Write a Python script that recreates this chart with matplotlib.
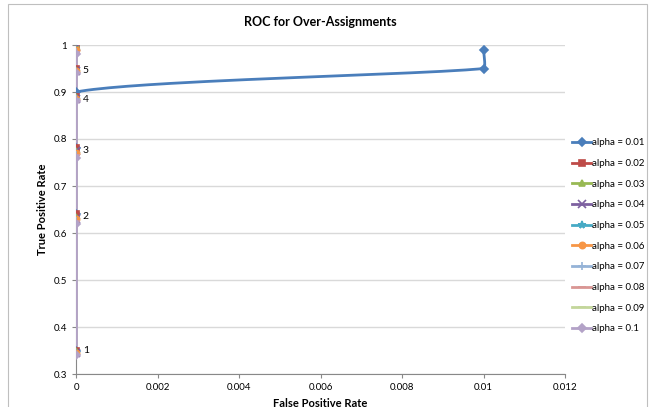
import matplotlib
matplotlib.use("Agg")
import matplotlib.pyplot as plt
import numpy as np

plt.rcParams['font.family'] = ['Lato', 'DejaVu Sans']

labels = ['alpha = 0.01', 'alpha = 0.02', 'alpha = 0.03', 'alpha = 0.04', 'alpha = 0.05',
          'alpha = 0.06', 'alpha = 0.07', 'alpha = 0.08', 'alpha = 0.09', 'alpha = 0.1']
colors = ['#4A7EBB', '#BE4B48', '#98B954', '#7D60A0', '#46AAC5',
          '#F79646', '#95B3D7', '#D99694', '#C3D69B', '#B3A2C7']
markers = ['D', 's', '^', 'x', '*', 'o', '+', '_', '_', 'D']

fpr = {
    'alpha = 0.01': [0, 0, 0, 0, 0.01, 0.01],
}
tpr = {
    'alpha = 0.01': [0.35, 0.64, 0.78, 0.90, 0.95, 0.99],
    'alpha = 0.02': [0.35, 0.64, 0.78, 0.89, 0.95, 1.00],
    'alpha = 0.03': [0.35, 0.635, 0.775, 0.89, 0.945, 1.00],
    'alpha = 0.04': [0.345, 0.63, 0.775, 0.885, 0.945, 0.995],
    'alpha = 0.05': [0.345, 0.63, 0.77, 0.885, 0.945, 0.99],
    'alpha = 0.06': [0.345, 0.63, 0.77, 0.885, 0.945, 0.99],
    'alpha = 0.07': [0.34, 0.625, 0.765, 0.885, 0.94, 0.985],
    'alpha = 0.08': [0.34, 0.625, 0.765, 0.88, 0.94, 0.985],
    'alpha = 0.09': [0.34, 0.62, 0.76, 0.88, 0.94, 0.98],
    'alpha = 0.1': [0.34, 0.62, 0.76, 0.88, 0.94, 0.98],
}
point_labels = ['1', '2', '3', '4', '5']
label_y = [0.35, 0.635, 0.775, 0.885, 0.945]


def unit(v):
    n = np.hypot(*v)
    return v / n if n > 0 else v * 0


def smooth(xs, ys, scale, k=0.15, n=40):
    # bezier smoothing with short handles, roughly like excel's smoothed line
    p = np.column_stack([xs, ys]).astype(float) / scale
    p = np.vstack([p[0], p, p[-1]])
    out = []
    t = np.linspace(0, 1, n)[:, None]
    for i in range(1, len(p) - 2):
        p0, p1, p2, p3 = p[i - 1], p[i], p[i + 1], p[i + 2]
        L = np.hypot(*(p2 - p1))
        c1 = p1 + k * L * unit(p2 - p0)
        c2 = p2 - k * L * unit(p3 - p1)
        out.append((1 - t) ** 3 * p1 + 3 * (1 - t) ** 2 * t * c1 + 3 * (1 - t) * t ** 2 * c2 + t ** 3 * p2)
    out = np.vstack(out) * scale
    return out[:, 0], out[:, 1]


fig = plt.figure(figsize=(6.49, 4.07), dpi=100)
ax = fig.add_axes([76 / 649, 1 - 374 / 407, (565 - 76) / 649, (374 - 45) / 407])
scale = np.array([0.012 / 489, 0.7 / 329])

for lab, c, m in zip(labels, colors, markers):
    ys = tpr[lab]
    xs = fpr.get(lab, [0] * len(ys))
    sxv, syv = smooth(xs, ys, scale)
    ms = 4.5 if m not in ('x', '+', '*', '_') else 5.5
    ax.plot(sxv, syv, color=c, lw=2.0, zorder=3)
    ax.plot(xs, ys, linestyle='none', marker=m, color=c, ms=ms, mew=1.2, zorder=4)
    ax.plot([], [], color=c, lw=2.0, marker=m, ms=ms, mew=1.2, label=lab)

for t, y in zip(point_labels, label_y):
    ax.text(0.00017, y, t, fontsize=7.5, va='center', ha='left')

ax.set_xlim(0, 0.012)
ax.set_ylim(0.3, 1.0)
ax.set_xticks(np.arange(0, 0.0121, 0.002))
ax.set_xticklabels(['0', '0.002', '0.004', '0.006', '0.008', '0.01', '0.012'])
ax.set_yticks(np.arange(0.3, 1.01, 0.1))
ax.set_yticklabels(['0.3', '0.4', '0.5', '0.6', '0.7', '0.8', '0.9', '1'])
ax.tick_params(labelsize=7, length=3, color='#888888')
ax.grid(axis='y', color='#D9D9D9', lw=1)
ax.set_axisbelow(True)
for s in ['top', 'right']:
    ax.spines[s].set_visible(False)
for s in ['left', 'bottom']:
    ax.spines[s].set_color('#888888')
ax.set_title('ROC for Over-Assignments', fontsize=9, fontweight='bold', pad=14)
ax.set_xlabel('False Positive Rate', fontsize=8, fontweight='bold', labelpad=4)
ax.set_ylabel('True Positive Rate', fontsize=8, fontweight='bold')

leg = ax.legend(loc='center left', bbox_to_anchor=(1.0, 0.42), frameon=False, fontsize=7,
                handlelength=2.0, handletextpad=0.1, labelspacing=1.2, borderaxespad=0.3)

fig.patches.append(plt.Rectangle((0.012, -0.01), 0.985, 1.0, transform=fig.transFigure,
                                 fill=False, edgecolor='#BFBFBF', lw=0.8))
fig.savefig('out.png', dpi=100)
